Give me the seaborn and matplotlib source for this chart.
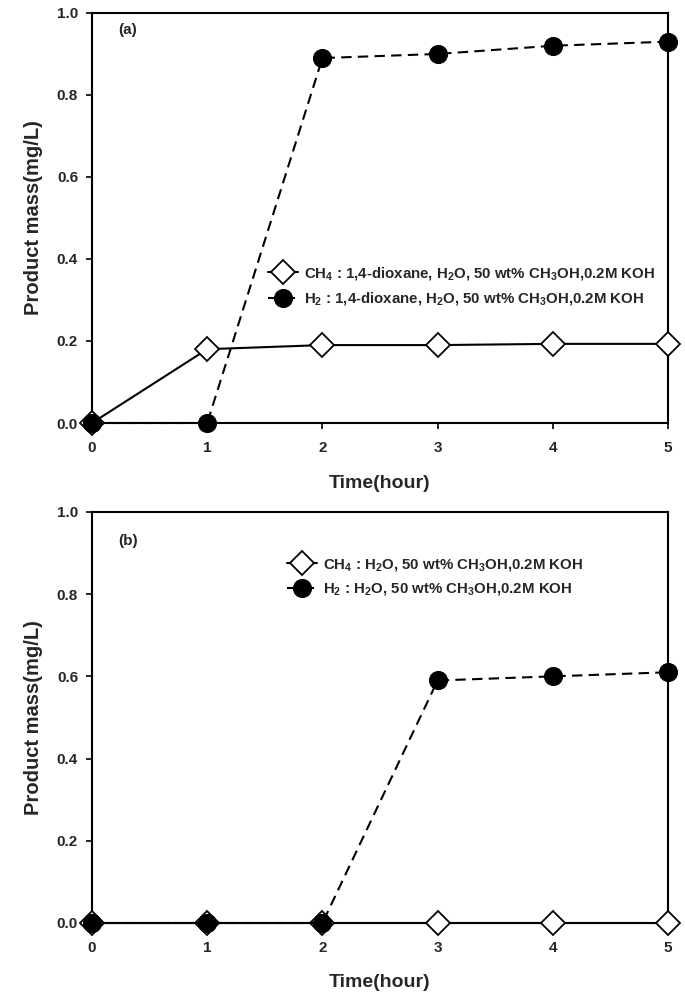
import matplotlib
matplotlib.use("Agg")
import matplotlib.pyplot as plt
import seaborn as sns
import pandas as pd

# data
time_h = [0, 1, 2, 3, 4, 5]
ch4_a = [0.0, 0.18, 0.19, 0.19, 0.193, 0.193]
h2_a = [0.0, 0.0, 0.89, 0.90, 0.92, 0.93]
ch4_b = [0.0, 0.0, 0.0, 0.0, 0.0, 0.0]
h2_b = [0.0, 0.0, 0.0, 0.59, 0.60, 0.61]
y_ticks = [0.0, 0.2, 0.4, 0.6, 0.8, 1.0]

label_ch4_a = "CH$_4$ : 1,4-dioxane, H$_2$O, 50 wt% CH$_3$OH,0.2M KOH"
label_h2_a = "H$_2$ : 1,4-dioxane, H$_2$O, 50 wt% CH$_3$OH,0.2M KOH"
label_ch4_b = "CH$_4$ : H$_2$O, 50 wt% CH$_3$OH,0.2M KOH"
label_h2_b = "H$_2$ : H$_2$O, 50 wt% CH$_3$OH,0.2M KOH"

sns.set_style("ticks")
plt.rcParams["font.family"] = ["Liberation Sans", "DejaVu Sans"]
plt.rcParams["mathtext.fontset"] = "custom"
plt.rcParams["mathtext.rm"] = "Liberation Sans:bold"
plt.rcParams["mathtext.it"] = "Liberation Sans:bold"
plt.rcParams["mathtext.bf"] = "Liberation Sans:bold"

fig = plt.figure(figsize=(6.85, 9.96), dpi=100)
ax_a = fig.add_axes([0.1343, 0.5753, 0.8410, 0.4117])
ax_b = fig.add_axes([0.1343, 0.0733, 0.8410, 0.4127])


def draw_panel(ax, ch4, h2, lab_ch4, lab_h2, tag, tag_y, legend_pos):
    df = pd.DataFrame({"t": time_h, "ch4": ch4, "h2": h2})
    sns.lineplot(data=df, x="t", y="ch4", ax=ax, color="black", lw=1.5,
                 marker="D", markersize=12, markerfacecolor="white",
                 markeredgecolor="black", markeredgewidth=1.3,
                 label=lab_ch4, zorder=3)
    sns.lineplot(data=df, x="t", y="h2", ax=ax, color="black", lw=1.5,
                 linestyle=(0, (5, 3)), marker="o", markersize=13,
                 markerfacecolor="black", markeredgecolor="black",
                 label=lab_h2, zorder=4)
    ax.set_xlim(0, 5)
    ax.set_ylim(0, 1.0)
    ax.set_xticks(time_h)
    ax.set_yticks(y_ticks)
    ax.set_yticklabels([f"{v:.1f}" for v in y_ticks])
    for lbl in ax.get_xticklabels() + ax.get_yticklabels():
        lbl.set_fontweight("bold")
        lbl.set_fontsize(11)
    ax.tick_params(direction="out", length=4, width=1.2, color="black")
    ax.tick_params(axis="x", pad=9)
    ax.tick_params(axis="y", pad=6)
    for s in ax.spines.values():
        s.set_linewidth(1.5)
        s.set_color("black")
    ax.set_xlabel("Time(hour)", fontsize=14, fontweight="bold", labelpad=14)
    ax.set_ylabel("Product mass(mg/L)", fontsize=14.5, fontweight="bold", labelpad=10)
    ax.text(0.045, tag_y, tag, transform=ax.transAxes, fontsize=11,
            fontweight="bold", va="center")
    leg = ax.legend(loc="upper left", bbox_to_anchor=legend_pos, frameon=False,
                    fontsize=10.8, handlelength=2.0, handletextpad=0.4,
                    labelspacing=0.55, borderpad=0, borderaxespad=0)
    for txt in leg.get_texts():
        txt.set_fontweight("bold")
    ax.grid(False)


draw_panel(ax_a, ch4_a, h2_a, label_ch4_a, label_h2_a, "(a)", 0.958, (0.305, 0.385))
draw_panel(ax_b, ch4_b, h2_b, label_ch4_b, label_h2_b, "(b)", 0.93, (0.339, 0.89))

for ax in (ax_a, ax_b):
    for ln in ax.get_lines():
        ln.set_clip_on(False)

fig.savefig("out.png", dpi=100)
